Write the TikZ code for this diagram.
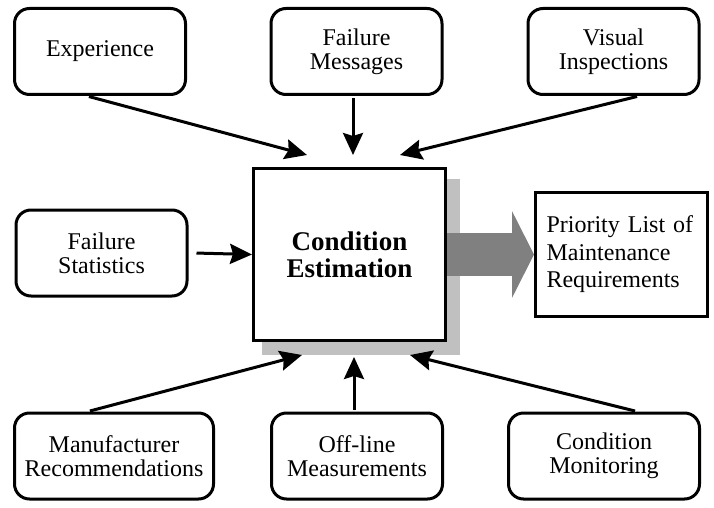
\documentclass[tikz,border=0pt]{standalone}
\usepackage{fontspec}
\setmainfont{Liberation Serif}
\usepackage{tikz}
\usetikzlibrary{positioning, arrows.meta, calc}
\newcommand{\boxfont}{\fontsize{24pt}{24pt}\selectfont}
\newcommand{\cefont}{\fontsize{27pt}{27pt}\selectfont\bfseries}
\definecolor{shadowgray}{RGB}{192, 192, 192}
\definecolor{arrowgray}{RGB}{128, 128, 128}
\tikzset{
  % Rounded input box
  source/.style={
    rectangle, rounded corners=15pt,
    minimum width=171pt, minimum height=86pt,
    fill=white, draw=black, line width=3pt,
    font=\boxfont, align=center
  },
  % Central box
  central/.style={
    rectangle, minimum width=192pt, minimum height=172pt,
    fill=white, draw=black, line width=3pt,
    font=\cefont, align=center
  },
  % Arrow style
  arr/.style={-{Stealth[length=22pt, width=20pt, inset=3pt]}, line width=3pt, shorten <=2pt},
}

\begin{document}
\begin{tikzpicture}[x=1pt, y=-1pt]
  \useasboundingbox (0,0) rectangle (714,508);
  % shadow behind the central box
  \fill[shadowgray] (262,179) rectangle (460,355);
  \node[central] (ce) at (349.5,254.5) {Condition\\Estimation};

  \node[source] (exp)   at (100,51.5)   {Experience};
  \node[source] (fmsg)  at (356.5,51.5) {Failure\\Messages};
  \node[source] (vis)   at (613.5,51.5) {Visual\\Inspections};
  \node[source] (fstat) at (101.5,253)  {Failure\\Statistics};
  \node[source, minimum width=199pt] (manu) at (114,456) {Manufacturer\\Recommendations};
  \node[source] (offl)  at (357,456)    {Off-line\\Measurements};
  \node[source, minimum width=191pt] (cmon) at (604,456) {Condition\\Monitoring};

  \node[draw, line width=3pt, minimum width=172pt, minimum height=124pt,
        text width=150pt, align=left, font=\fontsize{24pt}{27.5pt}\selectfont]
        (prio) at (621.5,254.5) {Priority List of\\Maintenance\\Requirements};

  % arrow tips around the central box
  \coordinate (t1) at ($(ce.north)+(-42.5,-12)$);
  \coordinate (t2) at ($(ce.north)+(3.5,-12)$);
  \coordinate (t3) at ($(ce.north)+(50.5,-12)$);
  \coordinate (b1) at ($(ce.south)+(-47.5,13)$);
  \coordinate (b2) at ($(ce.south)+(4.5,15)$);
  \coordinate (b3) at ($(ce.south)+(60.5,13)$);

  \draw[arr] ([xshift=-13pt]exp.south)  -- (t1);
  \draw[arr] ([xshift=-3.5pt]fmsg.south) -- (t2);
  \draw[arr] ([xshift=25.5pt]vis.south) -- (t3);
  \draw[arr] ([xshift=6pt]fstat.east)   -- (ce.west);
  \draw[arr] ([xshift=-26pt]manu.north) -- (b1);
  \draw[arr] ([xshift=-3pt]offl.north)  -- (b2);
  \draw[arr] ([xshift=33pt]cmon.north)  -- (b3);

  % output arrow
  \draw[-{Triangle[length=22pt, width=86pt]}, line width=43pt, arrowgray] (ce.east) -- (prio.west);
\end{tikzpicture}
\end{document}
